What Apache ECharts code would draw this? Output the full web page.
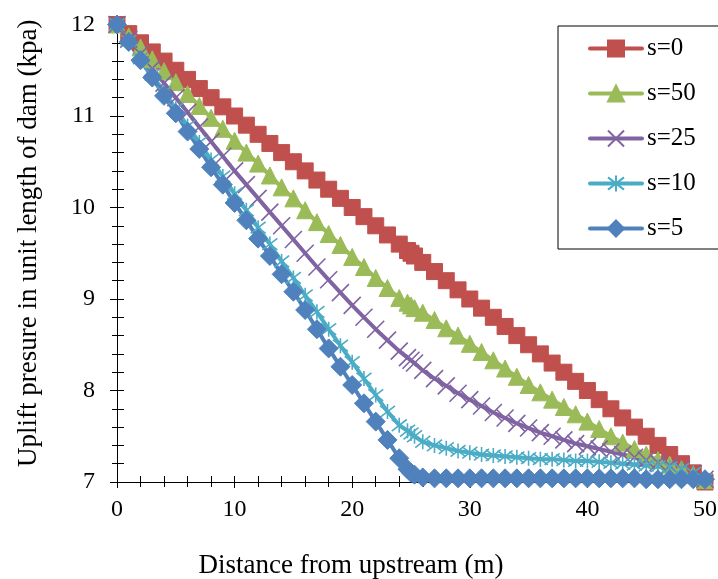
<!DOCTYPE html>
<html>
<head>
<meta charset="utf-8">
<script src="https://cdn.jsdelivr.net/npm/echarts@6/dist/echarts.min.js"></script>
<style>
html,body{margin:0;padding:0;background:#fff;}
#c{width:718px;height:579px;}
</style>
</head>
<body>
<div id="c"></div>
<script>
// distances along the dam (m)
var distances = [0,1,2,3,4,5,6,7,8,9,10,11,12,13,14,15,16,17,18,19,20,21,22,23,24,
  24.7,25,25.3,
  26,27,28,29,30,31,32,33,34,35,36,37,38,39,40,41,42,43,44,45,46,47,48,49,50];

var s0 = [12,11.9,11.8,11.7,11.6,11.5,11.4,11.3,11.2,11.1,11.0,10.9,10.8,10.7,10.6,10.5,10.4,10.3,10.2,10.1,10.0,9.9,9.8,9.7,9.6,
  9.53,9.5,9.47,
  9.4,9.3,9.2,9.1,9.0,8.9,8.8,8.7,8.6,8.5,8.4,8.3,8.2,8.1,8.0,7.9,7.8,7.7,7.6,7.5,7.4,7.3,7.2,7.1,7.0];

var s50 = [12,11.87,11.75,11.62,11.49,11.37,11.24,11.11,10.98,10.86,10.73,10.60,10.48,10.35,10.22,10.10,9.97,9.84,9.71,9.59,9.46,9.35,9.23,9.12,9.01,
  8.96,8.93,8.90,
  8.85,8.77,8.68,8.60,8.51,8.42,8.33,8.24,8.15,8.06,7.98,7.90,7.82,7.74,7.66,7.58,7.50,7.43,7.36,7.30,7.24,7.19,7.14,7.08,7.02];

var s25 = [12.00,11.84,11.68,11.52,11.36,11.20,11.04,10.88,10.72,10.56,10.40,10.25,10.10,9.95,9.80,9.65,9.50,9.35,9.21,9.07,8.93,8.80,8.67,8.55,8.43,
  8.36,8.33,8.30,
  8.22,8.13,8.05,7.97,7.90,7.83,7.76,7.70,7.64,7.59,7.54,7.50,7.46,7.42,7.39,7.36,7.33,7.30,7.27,7.24,7.21,7.18,7.14,7.09,7.03];

var s10 = [12,11.82,11.63,11.45,11.26,11.08,10.89,10.71,10.52,10.34,10.15,9.97,9.78,9.60,9.41,9.23,9.04,8.86,8.67,8.49,8.31,8.13,7.95,7.77,7.62,
  7.56,7.53,7.50,
  7.44,7.40,7.37,7.34,7.32,7.30,7.29,7.28,7.27,7.26,7.25,7.25,7.24,7.23,7.23,7.22,7.21,7.20,7.19,7.18,7.17,7.16,7.14,7.10,7.03];

var s5 = [12,11.81,11.61,11.42,11.22,11.03,10.83,10.64,10.44,10.25,10.05,9.86,9.66,9.47,9.27,9.08,8.88,8.67,8.46,8.26,8.06,7.86,7.66,7.46,7.26,
  7.14,7.10,7.08,
  7.05,7.04,7.04,7.04,7.04,7.04,7.04,7.04,7.04,7.04,7.04,7.04,7.04,7.04,7.04,7.04,7.04,7.04,7.04,7.03,7.03,7.03,7.03,7.03,7.03,7.02,7.02];

var seriesNames = ['s=0','s=50','s=25','s=10','s=5'];
var seriesData = [s0, s50, s25, s10, s5];
var colors = ['#C0504D','#9BBB59','#8064A2','#4BACC6','#4F81BD'];
var symbols = ['rect','triangle','path://M0,0L10,10M10,0L0,10','path://M0,0L10,10M10,0L0,10M5,-1.5L5,11.5','diamond'];
var symbolSizes = [[16,16],[17,17],[17,17],[15,15],[19,19]];

var xTitle = 'Distance from upstream (m)';
var yTitle = 'Uplift presure in unit length of dam (kpa)';

function pairs(vals){
  var out = [];
  for (var i = 0; i < distances.length; i++) out.push([distances[i], vals[i]]);
  return out;
}

var FONT = 'Liberation Serif';
var series = [];
for (var k = 0; k < seriesNames.length; k++) {
  var isStroke = (k === 2 || k === 3);
  series.push({
    name: seriesNames[k],
    type: 'line',
    data: pairs(seriesData[k]),
    color: colors[k],
    symbol: symbols[k],
    symbolSize: symbolSizes[k],
    showAllSymbol: true,
    clip: false,
    lineStyle: {width: 4, color: colors[k], cap: 'round'},
    itemStyle: isStroke ? {color: colors[k], borderColor: colors[k], borderWidth: 1.6} : {color: colors[k], borderColor: colors[k], borderWidth: 1},
    emphasis: {disabled: true},
    animation: false
  });
}

var axisCommon = {
  axisLine: {show: true, lineStyle: {color: '#000', width: 1}},
  splitLine: {show: false}
};

var chart = echarts.init(document.getElementById('c'));
chart.setOption({
  backgroundColor: '#fff',
  animation: false,
  textStyle: {fontFamily: FONT, color: '#000'},
  grid: {left: 117, right: 13, top: 24.5, bottom: 97, containLabel: false, outerBoundsMode: 'none'},
  legend: {
    orient: 'vertical',
    left: 558, top: 26,
    padding: [10, 24, 8, 30],
    itemGap: 20,
    itemWidth: 52,
    itemHeight: 20,
    borderColor: '#000', borderWidth: 1,
    backgroundColor: '#fff',
    lineStyle: {width: 4},
    textStyle: {fontFamily: FONT, fontSize: 25, color: '#000'},
    data: seriesNames
  },
  xAxis: [
    Object.assign({
      type: 'value', min: 0, max: 50, interval: 10, position: 'bottom',
      name: xTitle, nameLocation: 'middle', nameGap: 70,
      nameTextStyle: {fontFamily: FONT, fontSize: 27, color: '#000', padding: [0, 120, 0, 0]},
      axisTick: {show: true, inside: false, length: 6, lineStyle: {color: '#000'}},
      minorTick: {show: true, splitNumber: 5, length: 5, lineStyle: {color: '#000'}},
      axisLabel: {fontFamily: FONT, fontSize: 24, color: '#000', margin: 16}
    }, axisCommon),
    Object.assign({
      type: 'value', min: 0, max: 50, interval: 10, position: 'bottom',
      axisTick: {show: true, inside: true, length: 6, lineStyle: {color: '#000'}},
      minorTick: {show: true, splitNumber: 5, length: 6, lineStyle: {color: '#000'}},
      axisLabel: {show: false}
    }, axisCommon)
  ],
  yAxis: [
    Object.assign({
      type: 'value', min: 7, max: 12, interval: 1, position: 'left',
      name: yTitle, nameLocation: 'middle', nameGap: 75, nameRotate: 90,
      nameTextStyle: {fontFamily: FONT, fontSize: 27, color: '#000', padding: [0, 0, 0, 20]},
      axisTick: {show: true, inside: false, length: 7, lineStyle: {color: '#000'}},
      minorTick: {show: true, splitNumber: 5, length: 5, lineStyle: {color: '#000'}},
      axisLabel: {fontFamily: FONT, fontSize: 24, color: '#000', margin: 22}
    }, axisCommon),
    Object.assign({
      type: 'value', min: 7, max: 12, interval: 1, position: 'left',
      axisTick: {show: true, inside: true, length: 7, lineStyle: {color: '#000'}},
      minorTick: {show: true, splitNumber: 5, length: 7, lineStyle: {color: '#000'}},
      axisLabel: {show: false}
    }, axisCommon)
  ],
  series: series
});
</script>
</body>
</html>
